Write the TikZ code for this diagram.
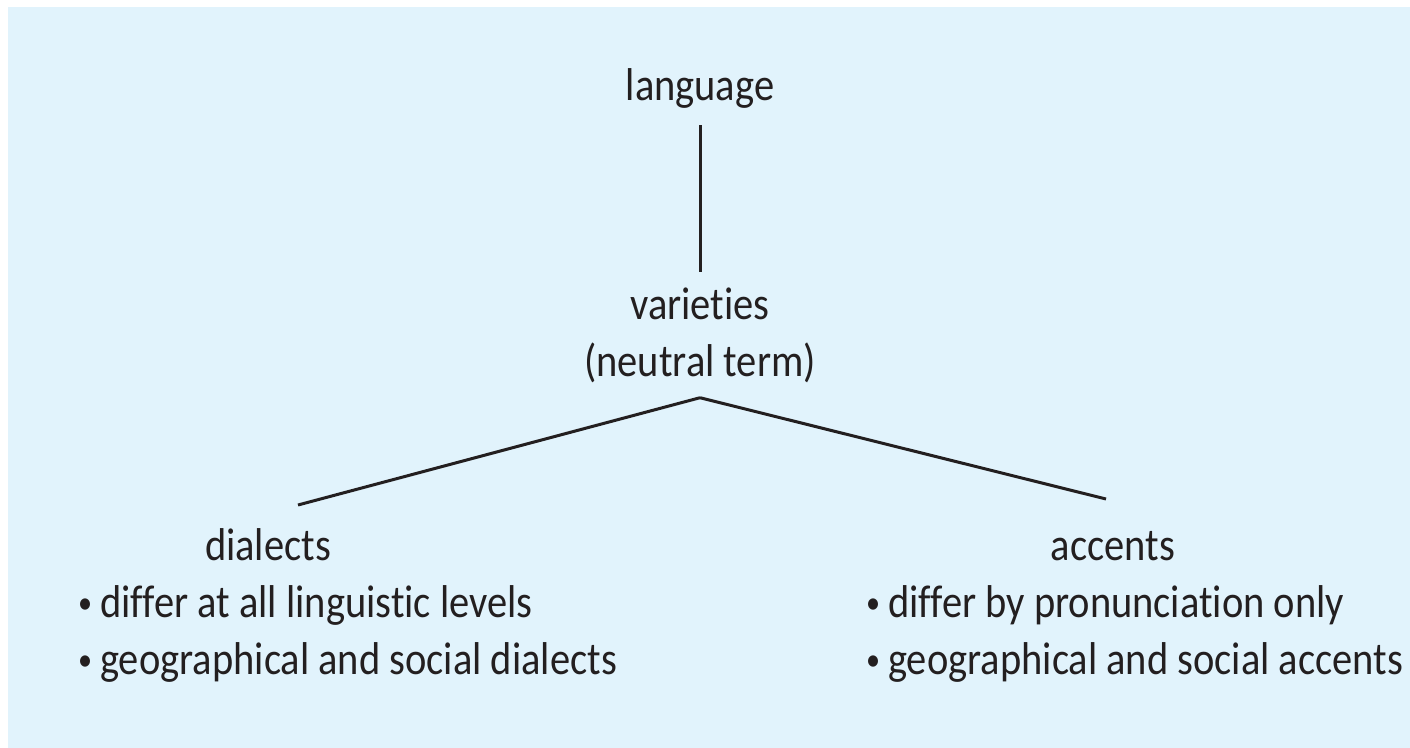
\documentclass[tikz,border=0pt]{standalone}
\usepackage{fontspec}
\setmainfont[FakeStretch=0.88,Ligatures=NoCommon]{Carlito}
\usetikzlibrary{positioning}
\definecolor{panel}{HTML}{E1F3FC}
\definecolor{ink}{HTML}{231F20}
\newcommand{\bul}{{\fontsize{32}{32}\selectfont\raisebox{4pt}{\textbullet}}\hspace{8pt}}

\begin{document}
\begin{tikzpicture}[x=1pt,y=-1pt,
    every node/.style={inner sep=0pt, text=ink, font=\fontsize{46}{57}\selectfont},
    branch/.style={draw=ink, line width=3pt},
]
\useasboundingbox (0,0) rectangle (1410,747);
\fill[panel] (8,7) rectangle (1420,760);

% tree
\node[anchor=base] (lang) at (700,100) {language};
\node[align=center] (var) at (700,335) {varieties\\(neutral term)};
\node[anchor=base] (dial) at (268,560) {dialects};
\node[anchor=base] (acc) at (1113,560) {accents};
\coordinate (fork) at ([yshift=-15pt]var.south);
\coordinate (dialtop) at (298,505);
\coordinate (acctop) at (1106,499);

% bullet lists
\node[align=left, anchor=north west] (diallist) at (78,585)
  {\bul differ at all linguistic levels\\\bul geographical and social dialects};
\node[align=left, anchor=north west] (acclist) at (866,585)
  {\bul differ by pronunciation only\\\bul geographical and social accents};

\draw[branch, shorten <=17pt, shorten >=15pt] (lang) -- (var);
\draw[branch] (fork) -- (dialtop);
\draw[branch] (fork) -- (acctop);
\end{tikzpicture}
\end{document}
